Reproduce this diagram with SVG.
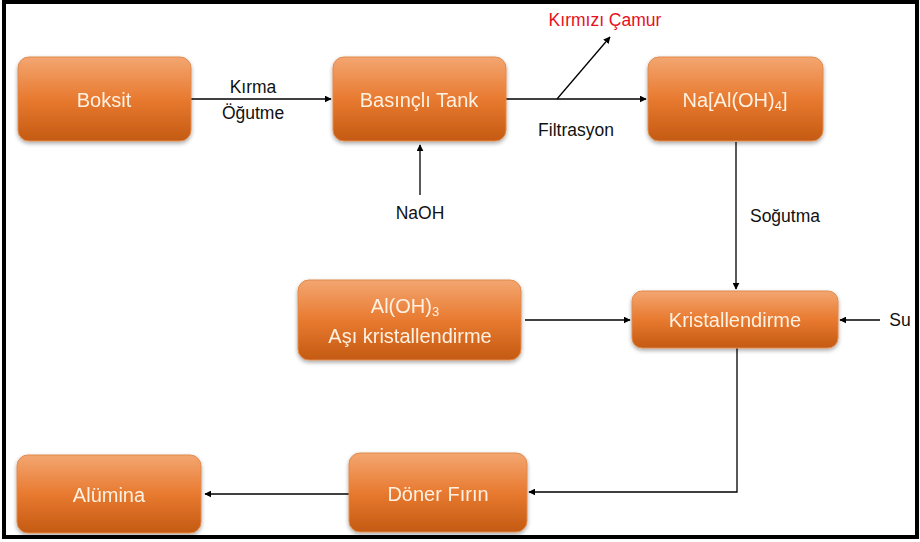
<svg xmlns="http://www.w3.org/2000/svg" width="920" height="542" viewBox="0 0 920 542">
<style>
.box{fill:url(#g);stroke:#e08a4a;stroke-width:1}
.nt{font-family:"Liberation Sans",Arial,sans-serif;font-size:20px;fill:#fff1e2;text-anchor:middle;dominant-baseline:central}
.lb{font-family:"Liberation Sans",Arial,sans-serif;font-size:17.5px;fill:#111;text-anchor:middle;dominant-baseline:central}
.ln{stroke:#000;stroke-width:1.3;fill:none}
</style>
<defs>
<linearGradient id="g" x1="0" y1="0" x2="0" y2="1">
<stop offset="0" stop-color="#f3a671"/>
<stop offset="0.5" stop-color="#e87a30"/>
<stop offset="1" stop-color="#c45a12"/>
</linearGradient>
<filter id="sh" x="-10%" y="-10%" width="120%" height="130%">
<feGaussianBlur in="SourceAlpha" stdDeviation="2"/>
<feOffset dx="0" dy="2"/>
<feComponentTransfer><feFuncA type="linear" slope="0.35"/></feComponentTransfer>
<feMerge><feMergeNode/><feMergeNode in="SourceGraphic"/></feMerge>
</filter>
<marker id="a" viewBox="0 0 10 10" refX="9" refY="5" markerWidth="7" markerHeight="7" orient="auto" markerUnits="userSpaceOnUse">
<path d="M0,0 L10,5 L0,10 z" fill="#000"/>
</marker>
</defs>
<rect x="0" y="0" width="920" height="542" fill="#fff"/>
<rect x="4" y="2" width="913" height="535" fill="none" stroke="#000" stroke-width="4"/>

<g id="connectors">
<line class="ln" x1="191" y1="99" x2="331" y2="99" marker-end="url(#a)"/>
<line class="ln" x1="506" y1="99" x2="646" y2="99" marker-end="url(#a)"/>
<line class="ln" x1="557" y1="99" x2="610" y2="37" marker-end="url(#a)"/>
<line class="ln" x1="420" y1="195" x2="420" y2="145" marker-end="url(#a)"/>
<line class="ln" x1="736" y1="142" x2="736" y2="289" marker-end="url(#a)"/>
<line class="ln" x1="525" y1="320" x2="630" y2="320" marker-end="url(#a)"/>
<line class="ln" x1="880" y1="320" x2="840" y2="320" marker-end="url(#a)"/>
<polyline class="ln" points="737,348 737,492 529,492" marker-end="url(#a)"/>
<line class="ln" x1="349" y1="494" x2="205" y2="494" marker-end="url(#a)"/>
<text class="lb" x="253" y="87">Kırma</text>
<text class="lb" x="253" y="113">Öğutme</text>
<text class="lb" x="576" y="130">Filtrasyon</text>
<text class="lb" x="605" y="20" style="fill:#e8101c">Kırmızı Çamur</text>
<text class="lb" x="420" y="213">NaOH</text>
<text class="lb" x="785" y="216">Soğutma</text>
<text class="lb" x="900" y="320">Su</text>
</g>

<g id="boksit" filter="url(#sh)">
<rect class="box" x="18" y="57" width="173" height="84" rx="11"/>
<text class="nt" x="104" y="100">Boksit</text>
</g>
<g id="basincli-tank" filter="url(#sh)">
<rect class="box" x="333" y="57" width="173" height="84" rx="11"/>
<text class="nt" x="419" y="100">Basınçlı Tank</text>
</g>
<g id="na-aloh4" filter="url(#sh)">
<rect class="box" x="648" y="57" width="175" height="84" rx="11"/>
<text class="nt" x="735" y="100">Na[Al(OH)<tspan font-size="13" dy="5">4</tspan><tspan dy="-5">]</tspan></text>
</g>
<g id="aloh3" filter="url(#sh)">
<rect class="box" x="298" y="280" width="223" height="80" rx="11"/>
<text class="nt" x="405" y="306">Al(OH)<tspan font-size="13" dy="5">3</tspan></text>
<text class="nt" x="410" y="336">Aşı kristallendirme</text>
</g>
<g id="kristallendirme" filter="url(#sh)">
<rect class="box" x="632" y="291" width="206" height="57" rx="10"/>
<text class="nt" x="735" y="320">Kristallendirme</text>
</g>
<g id="doner-firin" filter="url(#sh)">
<rect class="box" x="349" y="453" width="178" height="79" rx="11"/>
<text class="nt" x="438" y="494">Döner Fırın</text>
</g>
<g id="alumina" filter="url(#sh)">
<rect class="box" x="17" y="455" width="184" height="78" rx="11"/>
<text class="nt" x="109" y="495">Alümina</text>
</g>
</svg>
